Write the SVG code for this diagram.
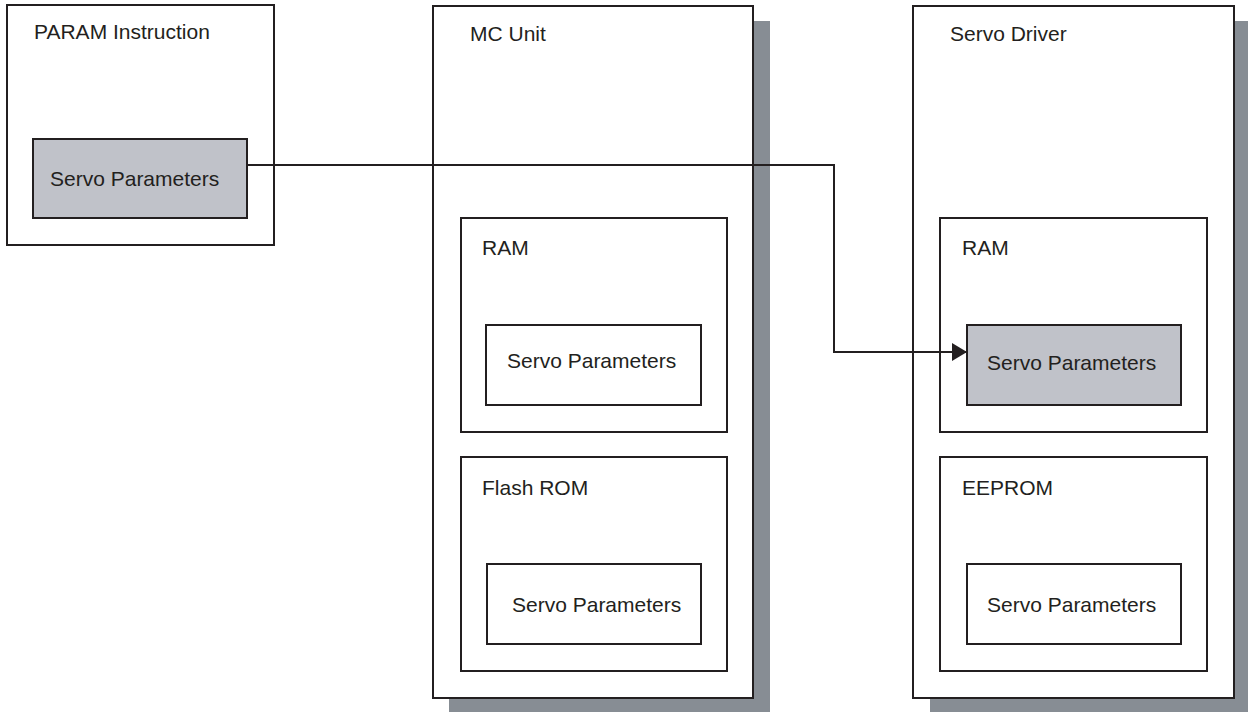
<svg xmlns="http://www.w3.org/2000/svg" width="1248" height="712" viewBox="0 0 1248 712">
<defs>
<style>
.box{fill:#ffffff;stroke:#231f20;stroke-width:2}
.grey{fill:#c0c2c9;stroke:#231f20;stroke-width:2}
.shadow{fill:#878d94;stroke:none}
.t{font-family:"Liberation Sans",Arial,sans-serif;font-size:21px;fill:#231f20}
.conn{fill:none;stroke:#231f20;stroke-width:2}
</style>
<marker id="arrow" markerWidth="16" markerHeight="18" refX="15" refY="9" orient="auto" markerUnits="userSpaceOnUse">
<path d="M0,0 L15,9 L0,18 Z" fill="#231f20"/>
</marker>
</defs>
<rect width="1248" height="712" fill="#ffffff"/>
<g id="param-instruction">
<rect class="box" x="7" y="5" width="267" height="240"/>
<text class="t" x="34" y="39">PARAM Instruction</text>
<g id="param-servo-params">
<rect class="grey" x="33" y="139" width="214" height="79"/>
<text class="t" x="50" y="186">Servo Parameters</text>
</g>
</g>
<g id="mc-unit">
<rect class="shadow" x="449" y="21" width="321" height="700"/>
<rect class="box" x="433" y="6" width="320" height="692"/>
<text class="t" x="470" y="41">MC Unit</text>
<g id="mc-ram">
<rect class="box" x="461" y="218" width="266" height="214"/>
<text class="t" x="482" y="255">RAM</text>
<g id="mc-ram-servo-params">
<rect class="box" x="486" y="325" width="215" height="80"/>
<text class="t" x="507" y="368">Servo Parameters</text>
</g>
</g>
<g id="mc-flash-rom">
<rect class="box" x="461" y="457" width="266" height="214"/>
<text class="t" x="482" y="495">Flash ROM</text>
<g id="mc-flash-servo-params">
<rect class="box" x="487" y="564" width="214" height="80"/>
<text class="t" x="512" y="612">Servo Parameters</text>
</g>
</g>
</g>
<g id="servo-driver">
<rect class="shadow" x="930" y="21" width="330" height="700"/>
<rect class="box" x="913" y="6" width="321" height="692"/>
<text class="t" x="950" y="41">Servo Driver</text>
<g id="sd-ram">
<rect class="box" x="940" y="218" width="267" height="214"/>
<text class="t" x="962" y="255">RAM</text>
<g id="sd-ram-servo-params">
<rect class="grey" x="967" y="325" width="214" height="80"/>
<text class="t" x="987" y="370">Servo Parameters</text>
</g>
</g>
<g id="sd-eeprom">
<rect class="box" x="940" y="457" width="267" height="214"/>
<text class="t" x="962" y="495">EEPROM</text>
<g id="sd-eeprom-servo-params">
<rect class="box" x="967" y="564" width="214" height="80"/>
<text class="t" x="987" y="612">Servo Parameters</text>
</g>
</g>
</g>
<g id="connectors">
<path class="conn" d="M247,165 H834 V352 H967" marker-end="url(#arrow)"/>
</g>
</svg>
